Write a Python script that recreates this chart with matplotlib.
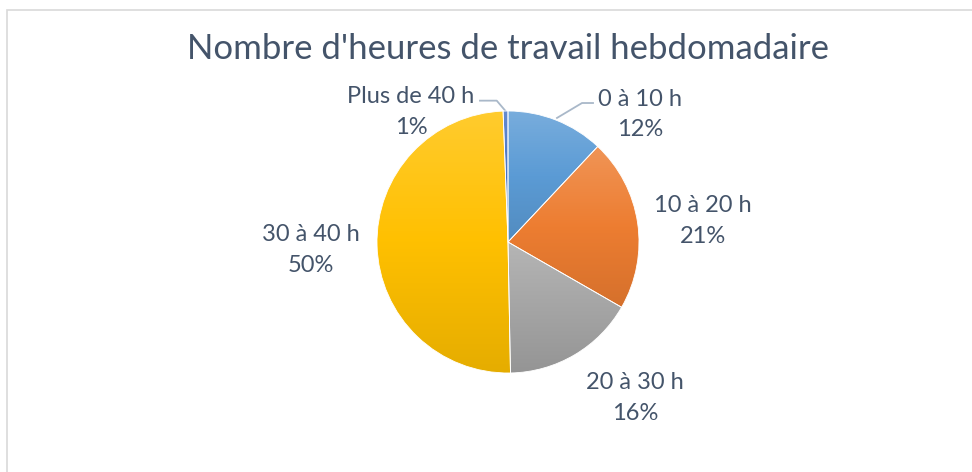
import numpy as np
import matplotlib.pyplot as plt
from matplotlib.patches import Wedge, Rectangle
from matplotlib.colors import to_rgb

# Données
categories = ['0 à 10 h', '10 à 20 h', '20 à 30 h', '30 à 40 h', 'Plus de 40 h']
valeurs = [12.0, 21.3, 16.4, 49.7, 0.6]
couleurs = ['#5B9BD5', '#ED7D31', '#A5A5A5', '#FFC000', '#4472C4']

# Position des étiquettes (unités du rayon) - placement "ajustement optimal"
pos_etiquettes = [(1.008, 0.975), (1.49, 0.161), (0.97, -1.191), (-1.504, -0.061), (-0.74, 0.993)]

texte_col = '#44546A'
police = 'Lato'

W, H = 972, 472
cx, cy, R = 508, 242, 131

fig = plt.figure(figsize=(W / 100, H / 100), dpi=100)
ax = fig.add_axes([0, 0, 1, 1])
ax.set_xlim(-cx / R, (W - cx) / R)
ax.set_ylim(-(H - cy) / R, cy / R)
ax.axis('off')

# Cadre du graphique
fig.patches.append(Rectangle((6.5 / W, -1), 2, 2 - 9.5 / H, transform=fig.transFigure,
                             fill=False, edgecolor='#D9D9D9', linewidth=1.2))


def melange(c, autre, t):
    c = np.array(to_rgb(c))
    return (1 - t) * c + t * np.array(autre)


# Secteurs avec dégradé vertical
total = sum(valeurs)
angle = 90.0
for val, col in zip(valeurs, couleurs):
    theta = val / total * 360.0
    w = Wedge((0, 0), 1, angle - theta, angle, facecolor='none', edgecolor='white', linewidth=0.6)
    ax.add_patch(w)
    ext = w.get_path().get_extents()
    base = np.array(to_rgb(col))
    haut = melange(col, (1, 1, 1), 0.18)
    bas = melange(col, (0, 0, 0), 0.10)
    t = np.linspace(0, 1, 128)[:, None]
    grad = np.where(t < 0.5, haut + (base - haut) * (t / 0.5),
                    base + (bas - base) * ((t - 0.5) / 0.5))
    img = ax.imshow(grad.reshape(128, 1, 3), extent=(ext.x0, ext.x1, ext.y0, ext.y1),
                    origin='upper', aspect='auto', interpolation='bilinear', zorder=1)
    img.set_clip_path(w)
    w.set_zorder(2)
    angle -= theta

# Étiquettes de données
for cat, val, (lx, ly) in zip(categories, valeurs, pos_etiquettes):
    ax.text(lx, ly, f'{cat}\n{val:.0f}%', ha='center', va='center', color=texte_col,
            fontsize=17, family=police, linespacing=1.55, zorder=3)

# Lignes de rappel
ax.plot([0.649, 0.565, 0.374], [1.061, 1.061, 0.947], color='#A9B8C9', lw=1.3, zorder=0.5)
ax.plot([-0.214, -0.086, -0.018], [1.079, 1.079, 0.999], color='#A9B8C9', lw=1.3, zorder=0.5)

fig.text(508 / W, 1 - 49 / H, "Nombre d'heures de travail hebdomadaire", ha='center', va='center',
         color=texte_col, fontsize=25, family=police)

fig.savefig('out.png', dpi=100)
